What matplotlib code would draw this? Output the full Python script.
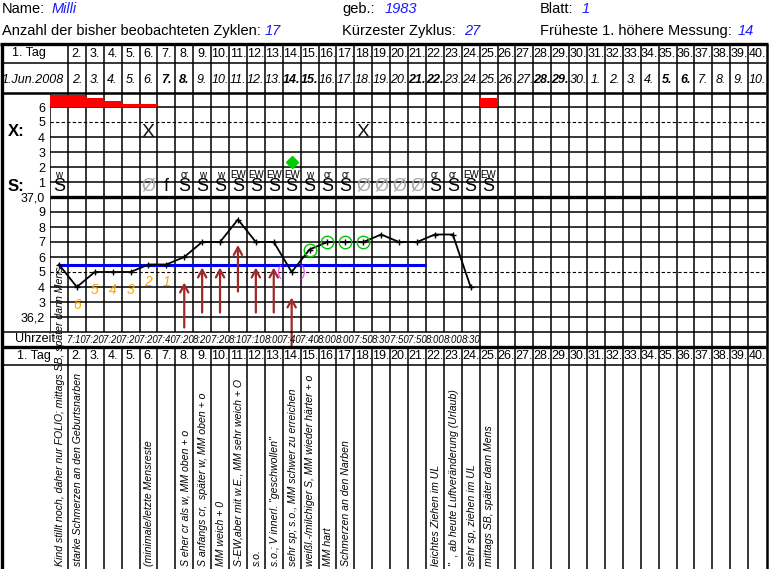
import matplotlib
matplotlib.use('Agg')
import matplotlib.pyplot as plt
import numpy as np

plt.rcParams['font.family'] = ['Liberation Sans', 'DejaVu Sans']

W, H = 770, 569
BLUE = '#1a1aff'

# header values
name = 'Milli'
born = '1983'
sheet = '1'
n_cycles = '17'
shortest = '27'
earliest = '14'

# table rows
days = np.arange(1, 41)
day_labels = [f'{d}.' for d in days]
dates = ['1.Jun.2008'] + [f'{d}.' for d in range(2, 31)] + [f'{d}.' for d in range(1, 11)]
bold_days = [7, 8, 14, 15, 21, 22, 28, 29, 35, 36]

# bleeding (bars above line 6)
bleed_days = [1, 2, 3, 4, 5, 6, 25]
bleed_top = [6.8, 6.8, 6.6, 6.4, 6.2, 6.2, 6.6]

# X row / green mark
x_days = [6, 18]
x_level = 4.3
green_days = [14]
green_level = [2.35]

# S row
s_days = [1, 8, 9, 10, 11, 12, 13, 14, 15, 16, 17, 22, 23, 24, 25]
s_tags = ['w', 'cr', 'w', 'w', 'EW', 'EW', 'EW', 'EW', 'w', 'cr', 'cr', 'cr', 'cr', 'EW', 'EW']
dry_days = [6, 18, 19, 20, 21]
f_days = [7]

# temperatures
temp_days = np.arange(1, 25)
temps = [36.55, 36.40, 36.50, 36.50, 36.50, 36.55, 36.55, 36.60, 36.70, 36.70,
         36.85, 36.70, 36.70, 36.50, 36.65, 36.70, 36.70, 36.70, 36.75, 36.70,
         36.70, 36.75, 36.75, 36.40]
low_days = [2, 3, 4, 5, 6, 7]
low_labels = ['6', '5', '4', '3', '2', '1']
high_days = [15, 16, 17, 18]
odd_day = 14
cover_level = 36.55
cover_span = (1, 21.5)

arrow_days = [8, 9, 10, 11, 12, 13, 14]
arrow_low = [36.13, 36.23, 36.23, 36.37, 36.23, 36.23, 36.01]
arrow_high = [36.43, 36.53, 36.53, 36.68, 36.53, 36.53, 36.33]

time_days = np.arange(2, 25)
times = ['7:10', '7:20', '7:20', '7:20', '7:20', '7:40', '7:20', '8:20', '7:20', '8:10',
         '7:10', '8:00', '7:40', '7:40', '8:00', '8:00', '7:50', '8:30', '7:50', '7:50',
         '8:00', '8:00', '8:30']

note_days = [1, 2, 6, 8, 9, 10, 11, 12, 13, 14, 15, 16, 17, 22, 23, 24, 25]
notes = ['Kind stillt noch, daher nur FOLIO; mittags SB, später dann Mens',
         'starke Schmerzen an den Geburtsnarben',
         '(minimale/letzte Mensreste',
         'S eher cr als w, MM oben + o',
         'S anfangs cr,  später w, MM oben + o',
         'MM weich + 0',
         'S-EW,aber mit w.E., MM sehr weich + O',
         's.o.',
         's.o.; V innerl. "geschwollen"',
         'sehr sp; s.o., MM schwer zu erreichen',
         'weißl.-/milchiger S, MM wieder härter + o',
         'MM hart',
         'Schmerzen an den Narben',
         'leichtes Ziehen im UL',
         '"  , ab heute Luftveränderung (Urlaub)',
         'sehr sp, ziehen im UL',
         'mittags SB, später dann Mens']


fig = plt.figure(figsize=(W / 100, H / 100), dpi=100)


def band(y0, y1, x0=50, x1=766):
    ax = fig.add_axes([x0 / W, 1 - y1 / H, (x1 - x0) / W, (y1 - y0) / H])
    ax.set_xlim(0.5, 40.5)
    ax.set_facecolor('none')
    for s in ax.spines.values():
        s.set_visible(False)
    ax.set_xticks([])
    ax.set_yticks([])
    return ax


bounds = np.arange(1.5, 40, 1)
grid_kw = dict(color='black', lw=1.1)

# row: cycle day
r1 = band(44, 63)
r1.set_ylim(0, 1)
r1.vlines(bounds, 0, 1, **grid_kw)
for d, lab in zip(days[1:], day_labels[1:]):
    r1.text(d, 0.47, lab, ha='center', va='center', fontsize=9)

# row: calendar dates
r2 = band(63, 93)
r2.set_ylim(0, 1)
r2.vlines(bounds, 0, 1, **grid_kw)
r2.text(1.25, 0.42, dates[0], ha='right', va='center', fontsize=9, style='italic')
for d, lab in zip(days[1:], dates[1:]):
    r2.text(d, 0.42, lab, ha='center', va='center', fontsize=9, style='italic',
            weight='bold' if d in bold_days else 'normal')

# X / S area
xs = band(93, 197)
xs.set_ylim(0, 104 / 15)
xs.vlines(np.arange(0.5, 40, 1), 0, 104 / 15, **grid_kw)
for v in range(1, 7):
    xs.axhline(v, color='black', lw=1.1 if v != 5 else 0.8,
               ls='-' if v != 5 else (0, (3, 2)))
xs.set_yticks(range(1, 7))
xs.set_yticklabels([str(v) for v in range(1, 7)], fontsize=9)
xs.tick_params(axis='y', length=0, pad=3.6)
xs.bar(bleed_days, np.array(bleed_top) - 6, bottom=6, width=1.0, color='#ff0000',
       zorder=3)
for d in x_days:
    xs.text(d, x_level, 'X', ha='center', va='center', fontsize=14, color='#111111')
xs.plot(green_days, green_level, 'D', color='#00cc00', ms=6, zorder=4)
for d, t in zip(s_days, s_tags):
    xs.text(d, 0.72, 'S', ha='center', va='center', fontsize=13)
    xs.text(d, 1.45, t, ha='center', va='center', fontsize=7)
for d in dry_days:
    xs.text(d, 0.72, 'Ø', ha='center', va='center', fontsize=13, color='#a8a8a8')
for d in f_days:
    xs.text(d, 0.72, 'f', ha='center', va='center', fontsize=13)

# temperature area
tp = band(197, 332)
tp.set_ylim(36.1, 37.0)
tp.vlines(np.arange(0.5, 40, 1), 36.1, 37.0, **grid_kw)
levels = np.round(np.arange(36.2, 37.0, 0.1), 1)
for v in levels:
    if v == 36.5:
        tp.axhline(v, color='black', lw=0.8, ls=(0, (3, 2)))
    else:
        tp.axhline(v, color='black', lw=1.1)
tp.set_yticks(list(levels) + [37.0])
tp.set_yticklabels(['36,2', '3', '4', '5', '6', '7', '8', '9', '37,0'], fontsize=9)
tp.tick_params(axis='y', length=0, pad=3.6)
tp.hlines(cover_level, *cover_span, color='#0000ee', lw=2.2, zorder=3)
tp.plot(temp_days, temps, color='black', lw=1.3, marker='+', ms=4, mew=1, zorder=4)
for d, lab in zip(low_days, low_labels):
    tp.text(d, temps[d - 1] - 0.12, lab, ha='center', va='center', fontsize=10,
            style='italic', color='#ffa500')
tp.plot(high_days, [temps[d - 1] for d in high_days], 'o', mfc='none', mec='#00c800',
        ms=9, mew=1, zorder=5)
tp.text(odd_day, temps[odd_day - 1], '(     )', ha='center', va='center', fontsize=10,
        color='#ff44ff', zorder=5)
for d, lo, hi in zip(arrow_days, arrow_low, arrow_high):
    tp.annotate('', xy=(d, hi), xytext=(d, lo), annotation_clip=False,
                arrowprops=dict(arrowstyle='->, head_length=0.55, head_width=0.3',
                                color='#a02828', lw=1.6, shrinkA=0, shrinkB=0))

# time row
tm = band(332, 347)
tm.set_ylim(0, 1)
tm.vlines(np.arange(24.5, 40, 1), 0, 1, **grid_kw)
for d, t in zip(time_days, times):
    tm.text(d, 0.45, t, ha='center', va='center', fontsize=6.9, style='italic')

# bottom cycle day row
r3 = band(347, 365)
r3.set_ylim(0, 1)
r3.vlines(bounds, 0, 1, **grid_kw)
for d, lab in zip(days[1:], day_labels[1:]):
    r3.text(d, 0.5, lab, ha='center', va='center', fontsize=9)

# notes row
nt = band(365, 569)
nt.set_ylim(0, 204)
nt.vlines(bounds, 0, 204, **grid_kw)
for d, s in zip(note_days, notes):
    nt.text(d + 0.05, 3, s, rotation=90, rotation_mode='anchor', ha='left', va='center',
            fontsize=7.6, style='italic', zorder=6)

# overlay: header, left column, borders
ov = fig.add_axes([0, 0, 1, 1])
ov.set_xlim(0, W)
ov.set_ylim(H, 0)
ov.axis('off')
ov.set_facecolor('none')

hdr = dict(fontsize=10.5, va='center')
ov.text(2, 9, 'Name:', **hdr)
ov.text(52, 9, name, color=BLUE, style='italic', **hdr)
ov.text(2, 31, 'Anzahl der bisher beobachteten Zyklen:', **hdr)
ov.text(265, 31, n_cycles, color=BLUE, style='italic', **hdr)
ov.text(342, 9, 'geb.:', **hdr)
ov.text(385, 9, born, color=BLUE, style='italic', **hdr)
ov.text(342, 31, 'Kürzester Zyklus:', **hdr)
ov.text(464, 31, shortest, color=BLUE, style='italic', **hdr)
ov.text(540, 9, 'Blatt:', **hdr)
ov.text(582, 9, sheet, color=BLUE, style='italic', **hdr)
ov.text(540, 31, 'Früheste 1. höhere Messung:', **hdr)
ov.text(738, 31, earliest, color=BLUE, style='italic', **hdr)

ov.text(29, 53, '1. Tag', ha='center', va='center', fontsize=9)
ov.text(34, 356, '1. Tag', ha='center', va='center', fontsize=9)
ov.text(35, 339, 'Uhrzeit', ha='center', va='center', fontsize=9)
ov.text(8, 131, 'X:', ha='left', va='center', fontsize=12, weight='bold')
ov.text(8, 186, 'S:', ha='left', va='center', fontsize=12, weight='bold')

ov.hlines([63, 332, 365], 2, 766, color='black', lw=1.1)
ov.hlines(44, 0, 768, color='black', lw=2.4)
ov.hlines(93, 2, 766, color='black', lw=1.8)
ov.hlines(197, 50, 766, color='black', lw=2.4)
ov.hlines(347, 2, 766, color='black', lw=2.4)
ov.vlines(1.5, 44, H, color='black', lw=2.4)
ov.vlines(767, 44, H, color='black', lw=1.8)

fig.savefig('out.png', dpi=100)
